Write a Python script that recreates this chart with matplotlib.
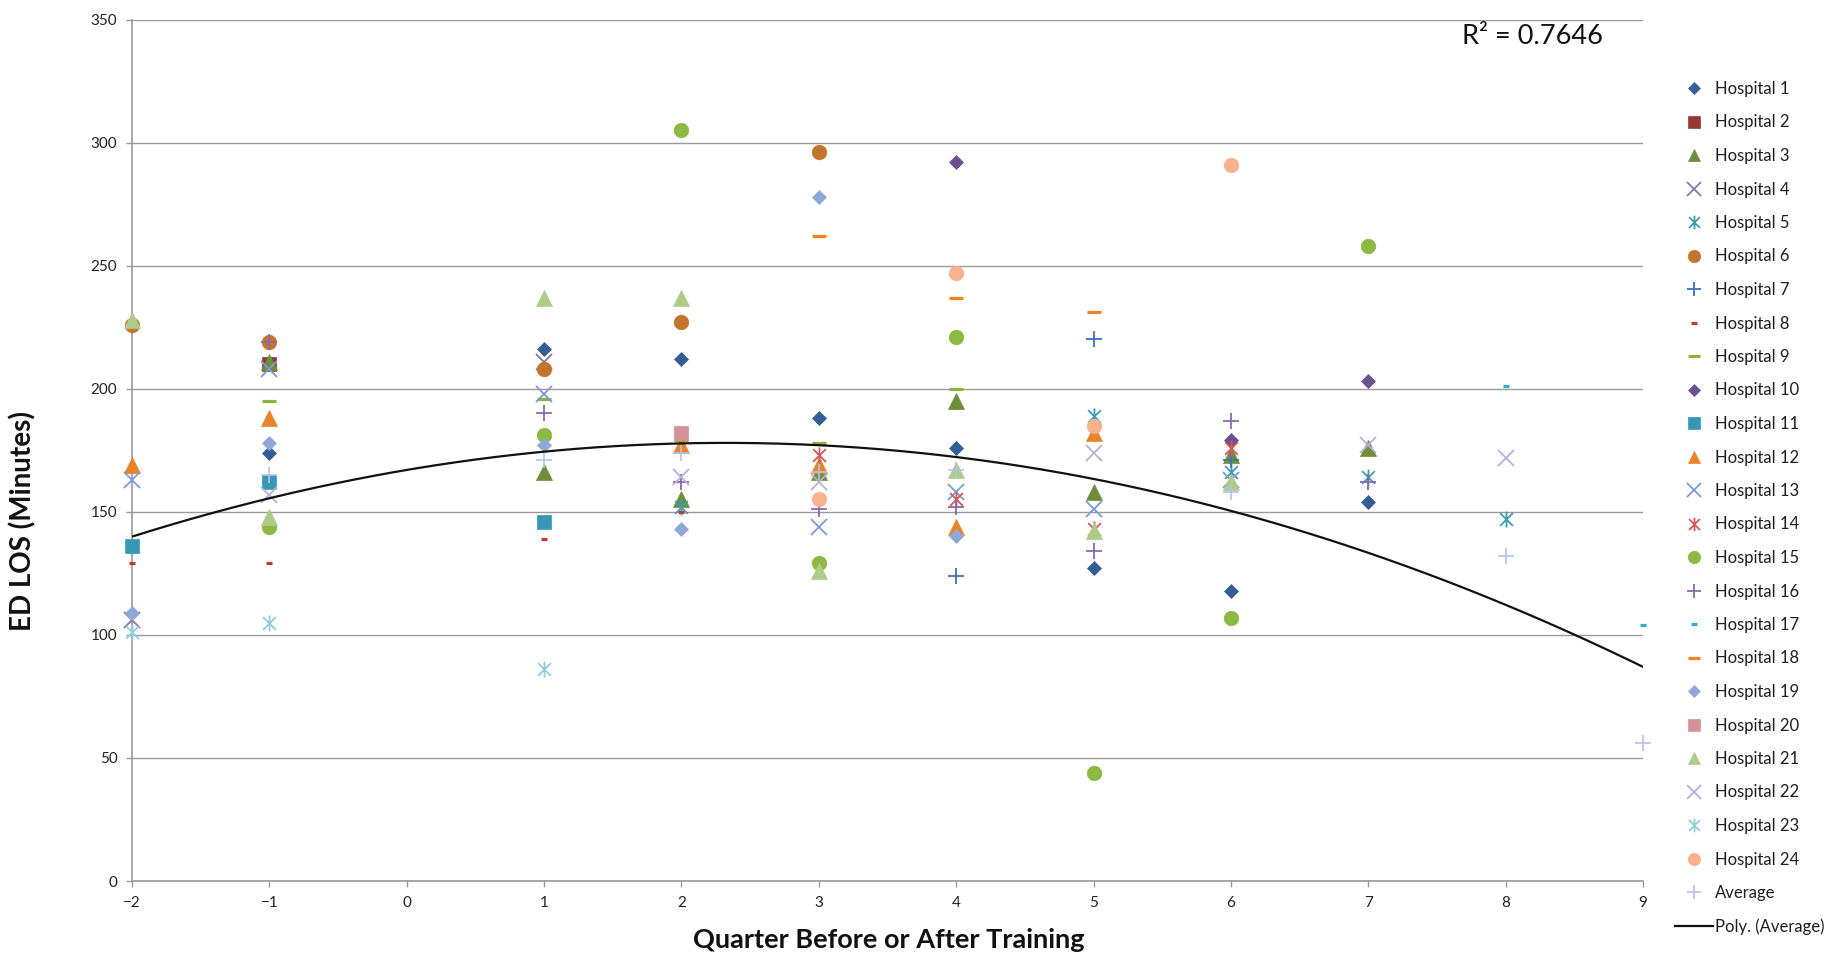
import numpy as np
import matplotlib
matplotlib.use('Agg')
import matplotlib.pyplot as plt
from matplotlib.path import Path

nan = np.nan

# quarter before / after training (no data at quarter 0)
quarters = [-2, -1, 1, 2, 3, 4, 5, 6, 7, 8, 9]

# ED LOS in minutes, one value per quarter above
hospital_1 = [nan, 174, 216, 212, 188, 176, 127, 118, 154, nan, nan]
hospital_2 = [nan, 210, nan, nan, nan, nan, nan, nan, nan, nan, nan]
hospital_3 = [nan, 211, 166, 155, 166, 195, 158, 173, 176, nan, nan]
hospital_4 = [106, nan, 211, nan, nan, nan, nan, nan, nan, nan, nan]
hospital_5 = [nan, nan, nan, 152, nan, nan, 189, 166, 164, 147, nan]
hospital_6 = [226, 219, 208, 227, 296, nan, nan, nan, nan, nan, nan]
hospital_7 = [nan, nan, nan, nan, nan, 124, 220, 171, nan, nan, nan]
hospital_8 = [129, 129, 139, 150, nan, nan, nan, nan, nan, nan, nan]
hospital_9 = [nan, 195, 196, 179, 178, 200, nan, nan, nan, nan, nan]
hospital_10 = [nan, nan, nan, nan, nan, 292, nan, 179, 203, nan, nan]
hospital_11 = [136, 162, 146, nan, nan, nan, nan, nan, nan, nan, nan]
hospital_12 = [169, 188, nan, 177, 169, 144, 182, nan, nan, nan, nan]
hospital_13 = [163, 208, 198, nan, 144, 158, 151, 163, nan, nan, nan]
hospital_14 = [nan, nan, nan, nan, 173, 155, 143, 176, nan, nan, nan]
hospital_15 = [nan, 144, 181, 305, 129, 221, 44, 107, 258, nan, nan]
hospital_16 = [nan, 219, 190, 162, 151, 152, 134, 187, 162, nan, nan]
hospital_17 = [nan, nan, nan, nan, nan, nan, nan, nan, nan, 201, 104]
hospital_18 = [nan, nan, nan, nan, 262, 237, 231, nan, nan, nan, nan]
hospital_19 = [109, 178, 177, 143, 278, 140, nan, nan, nan, nan, nan]
hospital_20 = [nan, nan, nan, 182, nan, nan, nan, nan, nan, nan, nan]
hospital_21 = [228, 148, 237, 237, 126, 167, 142, 162, nan, nan, nan]
hospital_22 = [nan, 157, nan, 164, 162, nan, 174, nan, 177, 172, nan]
hospital_23 = [101, 105, 86, nan, nan, nan, nan, nan, nan, nan, nan]
hospital_24 = [nan, nan, nan, nan, 155, 247, 185, 291, nan, nan, nan]
average = [nan, 165, 171, 174, 166, 167, nan, 158, nan, 132, 56]

# Poly. (Average) trendline, 2nd order, coefficients
trend_coef = [-2.04, 9.47, 167.0]
r_squared = 0.7646

hospitals = [hospital_1, hospital_2, hospital_3, hospital_4, hospital_5, hospital_6,
             hospital_7, hospital_8, hospital_9, hospital_10, hospital_11, hospital_12,
             hospital_13, hospital_14, hospital_15, hospital_16, hospital_17, hospital_18,
             hospital_19, hospital_20, hospital_21, hospital_22, hospital_23, hospital_24]

# Excel-like star: x with a vertical bar
star = Path([(0, -1), (0, 1), (-0.8, -0.8), (0.8, 0.8), (-0.8, 0.8), (0.8, -0.8)],
            [Path.MOVETO, Path.LINETO, Path.MOVETO, Path.LINETO, Path.MOVETO, Path.LINETO])

# marker, colour, size, edge width, filled
styles = [
    ('D', '#335E96', 7.6, 0.5, True),
    ('s', '#953735', 9.5, 0.5, True),
    ('^', '#6E8E3A', 11, 0.5, True),
    ('x', '#8A77AA', 11.5, 1.3, False),
    (star, '#3E9DB5', 11.5, 1.3, False),
    ('o', '#C5742E', 10.5, 0.5, True),
    ('+', '#3F6FB5', 11.5, 1.3, False),
    ('_', '#C0392B', 5, 2.3, False),
    ('_', '#8AB43F', 10, 2.3, False),
    ('D', '#6A5192', 7.6, 0.5, True),
    ('s', '#3797B4', 9.5, 0.5, True),
    ('^', '#E8832A', 11, 0.5, True),
    ('x', '#779CD8', 11.5, 1.3, False),
    (star, '#D55A55', 11.5, 1.3, False),
    ('o', '#8DB843', 10.5, 0.5, True),
    ('+', '#8A68B0', 11.5, 1.3, False),
    ('_', '#2FAED9', 5, 2.3, False),
    ('_', '#F58220', 10, 2.3, False),
    ('D', '#8EA8D8', 7.6, 0.5, True),
    ('s', '#D59297', 9.5, 0.5, True),
    ('^', '#AECB8A', 11, 0.5, True),
    ('x', '#BBAED6', 11.5, 1.3, False),
    (star, '#93CDDD', 11.5, 1.3, False),
    ('o', '#F8B28E', 10.5, 0.5, True),
]

plt.rcParams['font.family'] = ['Lato', 'DejaVu Sans']

W, H = 1843, 955
fig = plt.figure(figsize=(W / 100, H / 100), dpi=100)
ax = fig.add_axes([132 / W, 1 - 881 / H, (1643 - 132) / W, (881 - 19.5) / H])

for i, vals in enumerate(hospitals):
    m, c, ms, mew, filled = styles[i]
    ax.plot(quarters, vals, linestyle='none', marker=m, ms=ms, mew=mew,
            mfc=c if filled else 'none', mec=c, label=f'Hospital {i + 1}',
            clip_on=False, zorder=3)

ax.plot(quarters, average, linestyle='none', marker='+', ms=11.5, mew=1.2,
        mec='#B3C2E6', label='Average', clip_on=False, zorder=3)

xs = np.linspace(-2, 9, 300)
ax.plot(xs, np.polyval(trend_coef, xs), color='#111111', lw=1.6,
        label='Poly. (Average)', zorder=4)

ax.set_xlim(-2, 9)
ax.set_ylim(0, 350)
ax.set_xticks(range(-2, 10))
ax.set_yticks(range(0, 351, 50))
ax.yaxis.grid(True, color='#9A9A9A', lw=1.0)
ax.set_axisbelow(True)
for side in ['top', 'right']:
    ax.spines[side].set_visible(False)
for side in ['left', 'bottom']:
    ax.spines[side].set_color('#9A9A9A')
    ax.spines[side].set_linewidth(1.2)
ax.tick_params(direction='out', length=4.5, width=1, color='#9A9A9A',
               labelsize=11, labelcolor='#222222', pad=6)

fig.text(23 / W, 1 - 521 / H, 'ED LOS (Minutes)', rotation=90, ha='center', va='center',
         fontsize=20, fontweight='bold', color='#111111')
fig.text(889 / W, 1 - 940 / H, 'Quarter Before or After Training', ha='center', va='center',
         fontsize=19.5, fontweight='bold', color='#111111')
fig.text(1532 / W, 1 - 37 / H, f'R\u00b2 = {r_squared}', ha='center', va='center',
         fontsize=19.5, color='#111111')

fig.legend(loc='upper left', bbox_to_anchor=(1675 / W, 1 - 81 / H), frameon=False,
           fontsize=12, labelspacing=1.05, handlelength=2.3, handletextpad=0.12,
           borderaxespad=0, borderpad=0, markerscale=0.85, labelcolor='#1f1f1f')

fig.savefig('out.png', dpi=100)
